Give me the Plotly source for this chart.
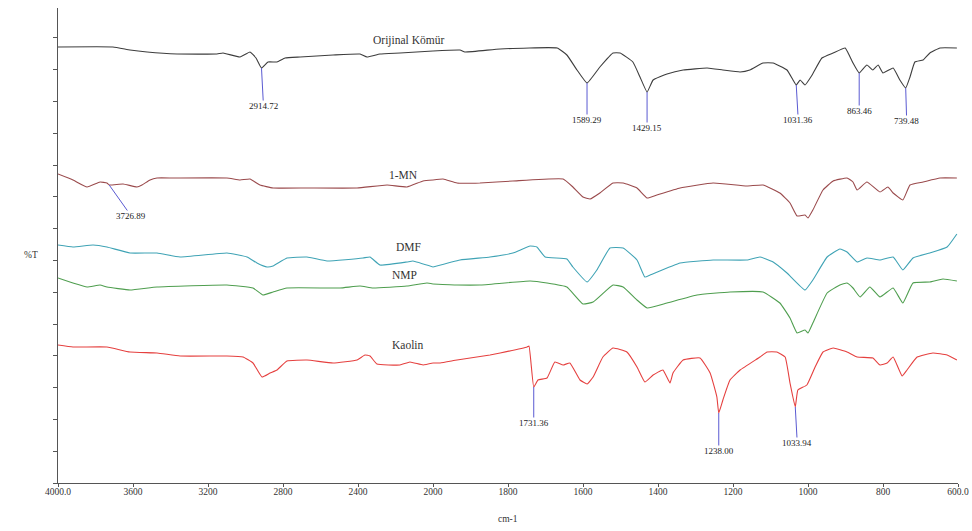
import plotly.graph_objects as go

# ---------------------------------------------------------------------------
# FTIR spectra (wavenumber in cm-1, transmittance in stacked arbitrary units)
# ---------------------------------------------------------------------------
orijinal_wn = [4000, 3707, 3616, 3525, 3365, 3152, 3120, 3029, 2976, 2944, 2914.72,
               2880, 2832, 2789, 2709, 2533, 2389, 2352, 2283, 2176, 2000,
               1928, 1915, 1821, 1669, 1643, 1616, 1589.29, 1555, 1520, 1501, 1467,
               1448, 1429.15, 1413, 1376, 1333, 1269, 1227, 1181, 1155, 1120, 1093,
               1056, 1040, 1031.36, 1021, 1008, 989, 963, 933, 901, 893, 880,
               863.46, 843, 827, 813, 800, 773, 755, 739.48, 728, 715, 693, 675,
               648, 603]
orijinal_t = [436, 436, 433, 431, 429, 429, 430, 426, 431, 425, 415,
              421, 421, 425, 426, 428, 429, 426, 429, 430, 432,
              433, 431, 434, 435, 428, 413, 400, 416, 430, 430, 421,
              406, 391, 403, 409, 413, 415, 413, 411, 413, 420, 420,
              413, 403, 398, 403, 398, 408, 425, 430, 435, 430, 420,
              410, 418, 413, 418, 410, 415, 403, 395, 406, 421, 423, 430,
              435, 435]

mn_wn = [4000, 3920, 3845, 3776, 3739, 3726.89, 3653, 3579, 3552, 3509, 3472,
         3387, 3099, 3029, 2976, 2923, 2853, 2672, 2405, 2245, 2139, 2053, 2000,
         1973, 1936, 1875, 1787, 1653, 1627, 1600, 1581, 1555, 1520, 1493,
         1456, 1429, 1403, 1341, 1253, 1163, 1120, 1075, 1048, 1029, 1008,
         1000, 987, 960, 933, 896, 880, 869, 843, 808, 787, 773, 747, 728,
         693, 648, 603]
mn_t = [309, 303, 296, 301, 300, 298, 299, 296, 298, 303, 305,
        305, 305, 303, 304, 298, 295, 295, 295, 298, 296, 302, 303,
        304, 300, 300, 302, 304, 296, 286, 284, 290, 300, 300,
        295, 285, 288, 295, 300, 297, 298, 290, 280, 267, 268,
        265, 273, 293, 302, 305, 301, 293, 301, 291, 296, 290, 283, 298,
        301, 305, 305]

dmf_wn = [4000, 3920, 3813, 3739, 3616, 3472, 3349, 3099, 2992, 2939, 2885,
          2853, 2779, 2672, 2565, 2373, 2336, 2283, 2139, 2107, 2000,
          1928, 1848, 1787, 1741, 1723, 1701, 1643, 1627, 1589, 1563, 1528,
          1493, 1456, 1435, 1421, 1341, 1253, 1163, 1128, 1093, 1056, 1008,
          987, 949, 915, 896, 869, 843, 808, 773, 747, 720, 675, 629, 603]
dmf_t = [238, 236, 238, 236, 230, 230, 226, 230, 226, 220, 216,
         217, 225, 226, 222, 225, 226, 218, 221, 222, 216,
         223, 226, 230, 237, 236, 226, 224, 216, 201, 213, 235,
         235, 223, 206, 208, 220, 223, 223, 226, 221, 210, 193,
         203, 226, 234, 231, 221, 225, 223, 226, 213, 225, 230, 236, 249]

nmp_wn = [4000, 3920, 3845, 3776, 3739, 3616, 3472, 3099, 2960, 2907, 2853,
          2779, 2496, 2389, 2320, 2139, 2032, 2000,
          1936, 1875, 1741, 1696, 1643, 1600, 1573, 1520, 1493, 1456, 1429,
          1376, 1296, 1208, 1120, 1075, 1048, 1029, 1008, 1000, 987, 949,
          915, 896, 880, 861, 835, 808, 773, 747, 720, 675, 640, 603]
nmp_t = [205, 200, 196, 198, 196, 193, 196, 198, 195, 188, 191,
         195, 195, 197, 195, 197, 200, 199,
         198, 198, 202, 200, 196, 179, 181, 198, 196, 183, 175,
         180, 188, 191, 191, 180, 165, 150, 153, 150, 160, 190,
         198, 200, 195, 186, 196, 186, 195, 180, 200, 201, 204, 202]

kaolin_wn = [4000, 3920, 3739, 3616, 3472, 3349, 3099, 3013, 2960, 2912, 2869,
             2832, 2779, 2672, 2533, 2405, 2363, 2336, 2299, 2176, 2123, 2053, 2000,
             1981, 1936, 1848, 1821, 1749, 1744, 1731.36, 1720, 1696, 1675, 1653,
             1635, 1608, 1589, 1573, 1547, 1520, 1483, 1456, 1435, 1413, 1387,
             1368, 1360, 1333, 1288, 1261, 1243, 1238.00, 1227, 1208, 1181, 1128,
             1109, 1083, 1061, 1048, 1033.94, 1027, 1003, 981, 960, 933, 896,
             869, 827, 808, 789, 773, 749, 736, 709, 667, 629, 603]
kaolin_t = [138, 136, 136, 131, 130, 127, 127, 126, 120, 106, 110,
            113, 122, 123, 120, 123, 128, 127, 119, 118, 121, 118, 120,
            120, 123, 128, 130, 136, 137, 96, 103, 105, 121, 118,
            120, 103, 99, 106, 126, 135, 131, 116, 101, 108, 113,
            100, 110, 123, 125, 110, 86, 70, 83, 103, 113, 126,
            131, 131, 126, 100, 76, 93, 98, 116, 131, 135, 131,
            126, 125, 118, 120, 126, 107, 113, 126, 130, 128, 123]

series_names = ["Orijinal Kömür", "1-MN", "DMF", "NMP", "Kaolin"]
series_wn = [orijinal_wn, mn_wn, dmf_wn, nmp_wn, kaolin_wn]
series_t = [orijinal_t, mn_t, dmf_t, nmp_t, kaolin_t]
series_colors = ["#3d3d3d", "#9a4a4c", "#3fa3b5", "#4f9e4f", "#e5403f"]

# where each sample name is written (wavenumber, transmittance)
name_wn = [2133, 2160, 2133, 2150, 2133]
name_t = [443, 308, 236, 208, 138]

# marked bands: (series index, wavenumber, text, x offset px, y offset px)
peak_marks = [
    (0, 2914.72, "2914.72", 2, 38),
    (0, 1589.29, "1589.29", 0, 37),
    (0, 1429.15, "1429.15", 0, 36),
    (0, 1031.36, "1031.36", 2, 35),
    (0, 863.46, "863.46", 0, 38),
    (0, 739.48, "739.48", 1, 33),
    (1, 3726.89, "3726.89", 22, 31),
    (4, 1731.36, "1731.36", 0, 36),
    (4, 1238.00, "1238.00", 0, 38),
    (4, 1033.94, "1033.94", 2, 36),
]

# high-wavenumber region is drawn at half scale, as on the instrument print-out
BREAK = 2000
HI_TICKS = [4000, 3600, 3200, 2800, 2400, 2000]
HI_TEXT = ["4000.0", "3600", "3200", "2800", "2400", "2000"]
LO_TICKS = [1800, 1600, 1400, 1200, 1000, 800, 600]
LO_TEXT = ["1800", "1600", "1400", "1200", "1000", "800", "600.0"]

SERIF = "Liberation Serif, Times New Roman, serif"
split_frac = (4000 - BREAK) / 2 / ((4000 - BREAK) / 2 + (BREAK - 600))

fig = go.Figure()
for name, wn, t, col in zip(series_names, series_wn, series_t, series_colors):
    hi = [(w, v) for w, v in zip(wn, t) if w >= BREAK]
    lo = [(w, v) for w, v in zip(wn, t) if w <= BREAK]
    line = dict(color=col, width=1.1, shape="spline", smoothing=0.35)
    fig.add_trace(go.Scatter(x=[p[0] for p in hi], y=[p[1] for p in hi],
                             mode="lines", line=line,
                             name=name, xaxis="x", yaxis="y", showlegend=False))
    fig.add_trace(go.Scatter(x=[p[0] for p in lo], y=[p[1] for p in lo],
                             mode="lines", line=line,
                             name=name, xaxis="x2", yaxis="y", showlegend=False))

annotations = []
for name, w, v in zip(series_names, name_wn, name_t):
    annotations.append(dict(x=w, y=v, xref="x" if w >= BREAK else "x2", yref="y",
                            text=name, showarrow=False,
                            font=dict(family=SERIF, size=11.5, color="#333333")))

for si, w, txt, ox, oy in peak_marks:
    v = series_t[si][series_wn[si].index(w)]
    annotations.append(dict(x=w, y=v, xref="x" if w >= BREAK else "x2", yref="y",
                            text=txt, showarrow=True, arrowhead=0, arrowwidth=1,
                            arrowcolor="#5a5ad2", ax=ox, ay=oy, standoff=0,
                            borderpad=0,
                            font=dict(family=SERIF, size=9, color="#222222")))

annotations.append(dict(x=0.5, y=-0.076, xref="paper", yref="paper", text="cm-1",
                        showarrow=False, yanchor="middle",
                        font=dict(family=SERIF, size=9.5, color="#333333")))
annotations.append(dict(x=-0.04, y=0.48, xref="paper", yref="paper", text="%T",
                        showarrow=False,
                        font=dict(family=SERIF, size=9.5, color="#333333")))

axis_common = dict(showgrid=False, zeroline=False, showline=True, linecolor="#555555",
                   linewidth=1, ticks="outside", ticklen=3, tickcolor="#555555",
                   tickfont=dict(family=SERIF, size=9.5, color="#333333"),
                   ticklabelstandoff=-3, automargin=False, anchor="y")

fig.update_layout(
    width=972, height=531,
    margin=dict(l=58, r=14, t=8, b=48),
    paper_bgcolor="white", plot_bgcolor="white",
    showlegend=False,
    xaxis=dict(domain=[0, split_frac], range=[4000, BREAK], tickmode="array",
               tickvals=HI_TICKS, ticktext=HI_TEXT, **axis_common),
    xaxis2=dict(domain=[split_frac, 1], range=[BREAK, 600], tickmode="array",
                tickvals=LO_TICKS, ticktext=LO_TEXT, **axis_common),
    yaxis=dict(range=[0, 475], tick0=0, dtick=31.8, showticklabels=False,
               showgrid=False, zeroline=False, showline=True, linecolor="#555555",
               linewidth=1, ticks="outside", ticklen=4, tickcolor="#555555",
               automargin=False, anchor="x"),
    annotations=annotations,
)

fig.write_html("out.html")
